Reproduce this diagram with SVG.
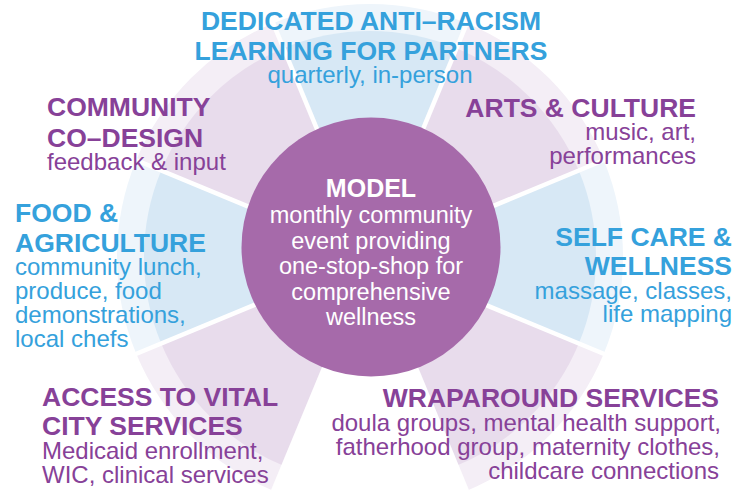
<svg xmlns="http://www.w3.org/2000/svg" width="751" height="491" viewBox="0 0 751 491">
  <style>
    .ring-blue { fill: #eef5fb; }
    .ring-purple { fill: #f4eef6; }
    .wedge-blue { fill: #d7e8f5; }
    .wedge-purple { fill: #e8dcec; }
    .divider { stroke: #ffffff; stroke-width: 4.5; stroke-linecap: butt; fill: none; }
    .title { font-family: "Liberation Sans", Arial, Helvetica, sans-serif; font-weight: bold; font-size: 26.5px; }
    .sub { font-family: "Liberation Sans", Arial, Helvetica, sans-serif; font-size: 24px; }
    .blue { fill: #35a1dc; }
    .purple { fill: #874198; }
    .hub-title { font-family: "Liberation Sans", Arial, Helvetica, sans-serif; font-weight: bold; font-size: 25px; fill: #ffffff; }
    .hub-sub { font-family: "Liberation Sans", Arial, Helvetica, sans-serif; font-size: 23.5px; fill: #ffffff; }
  </style>

  <!-- Wheel: each sector is a faint outer band (r=253) with a stronger inner wedge (r=226), centred at (370,257) -->
  <g id="wheel">
    <g id="sector-anti-racism">
      <path class="ring-blue" d="M370,257 L273.18,23.26 A253,253 0 0 1 466.82,23.26 Z"/>
      <path class="wedge-blue" d="M370,257 L283.51,48.2 A226,226 0 0 1 456.49,48.2 Z"/>
    </g>
    <g id="sector-arts-culture">
      <path class="ring-purple" d="M370,257 L466.82,23.26 A253,253 0 0 1 603.74,160.18 Z"/>
      <path class="wedge-purple" d="M370,257 L456.49,48.2 A226,226 0 0 1 578.8,170.51 Z"/>
    </g>
    <g id="sector-self-care">
      <path class="ring-blue" d="M370,257 L603.74,160.18 A253,253 0 0 1 603.74,353.82 Z"/>
      <path class="wedge-blue" d="M370,257 L578.8,170.51 A226,226 0 0 1 578.8,343.49 Z"/>
    </g>
    <g id="sector-wraparound">
      <path class="ring-purple" d="M370,257 L603.74,353.82 A253,253 0 0 1 466.82,490.74 Z"/>
      <path class="wedge-purple" d="M370,257 L578.8,343.49 A226,226 0 0 1 456.49,465.8 Z"/>
    </g>
    <g id="sector-city-services">
      <path class="ring-purple" d="M370,257 L273.18,490.74 A253,253 0 0 1 136.26,353.82 Z"/>
      <path class="wedge-purple" d="M370,257 L283.51,465.8 A226,226 0 0 1 161.2,343.49 Z"/>
    </g>
    <g id="sector-food-agriculture">
      <path class="ring-blue" d="M370,257 L136.26,353.82 A253,253 0 0 1 136.26,160.18 Z"/>
      <path class="wedge-blue" d="M370,257 L161.2,343.49 A226,226 0 0 1 161.2,170.51 Z"/>
    </g>
    <g id="sector-co-design">
      <path class="ring-purple" d="M370,257 L136.26,160.18 A253,253 0 0 1 273.18,23.26 Z"/>
      <path class="wedge-purple" d="M370,257 L161.2,170.51 A226,226 0 0 1 283.51,48.2 Z"/>
    </g>
  </g>

  <!-- White spokes between sectors -->
  <g id="connectors">
    <line class="divider" x1="370" y1="257" x2="270.5" y2="16.8"/>
    <line class="divider" x1="370" y1="257" x2="469.5" y2="16.8"/>
    <line class="divider" x1="370" y1="257" x2="610.2" y2="157.5"/>
    <line class="divider" x1="370" y1="257" x2="610.2" y2="356.5"/>
    <line class="divider" x1="370" y1="257" x2="469.5" y2="497.2"/>
    <line class="divider" x1="370" y1="257" x2="270.5" y2="497.2"/>
    <line class="divider" x1="370" y1="257" x2="129.8" y2="356.5"/>
    <line class="divider" x1="370" y1="257" x2="129.8" y2="157.5"/>
  </g>

  <!-- Sector labels -->
  <g id="anti-racism">
    <text class="title blue" text-anchor="middle" x="371" y="30">DEDICATED ANTI–RACISM</text>
    <text class="title blue" text-anchor="middle" x="371" y="59.5">LEARNING FOR PARTNERS</text>
    <text class="sub blue" text-anchor="middle" x="370" y="82.5">quarterly, in-person</text>
  </g>

  <g id="arts-culture">
    <text class="title purple" text-anchor="end" x="696" y="116.5">ARTS &amp; CULTURE</text>
    <text class="sub purple" text-anchor="end" x="696" y="140">music, art,</text>
    <text class="sub purple" text-anchor="end" x="696" y="163.5">performances</text>
  </g>

  <g id="self-care">
    <text class="title blue" text-anchor="end" x="732" y="245.5">SELF CARE &amp;</text>
    <text class="title blue" text-anchor="end" x="732" y="275">WELLNESS</text>
    <text class="sub blue" text-anchor="end" x="732" y="298.5">massage, classes,</text>
    <text class="sub blue" text-anchor="end" x="732" y="322">life mapping</text>
  </g>

  <g id="wraparound">
    <text class="title purple" text-anchor="end" x="719" y="406.5">WRAPAROUND SERVICES</text>
    <text class="sub purple" text-anchor="end" x="721" y="430.5">doula groups, mental health support,</text>
    <text class="sub purple" text-anchor="end" x="720" y="454.5">fatherhood group, maternity clothes,</text>
    <text class="sub purple" text-anchor="end" x="719" y="478.5">childcare connections</text>
  </g>

  <g id="city-services">
    <text class="title purple" x="42" y="406">ACCESS TO VITAL</text>
    <text class="title purple" x="42" y="435">CITY SERVICES</text>
    <text class="sub purple" x="42" y="459">Medicaid enrollment,</text>
    <text class="sub purple" x="42" y="482.5">WIC, clinical services</text>
  </g>

  <g id="food-agriculture">
    <text class="title blue" x="15" y="221.5">FOOD &amp;</text>
    <text class="title blue" x="15" y="251.5">AGRICULTURE</text>
    <text class="sub blue" x="15" y="275">community lunch,</text>
    <text class="sub blue" x="15" y="299">produce, food</text>
    <text class="sub blue" x="15" y="323">demonstrations,</text>
    <text class="sub blue" x="15" y="347">local chefs</text>
  </g>

  <g id="co-design">
    <text class="title purple" x="47" y="116">COMMUNITY</text>
    <text class="title purple" x="47" y="146.5">CO–DESIGN</text>
    <text class="sub purple" x="47" y="169.5">feedback &amp; input</text>
  </g>

  <!-- Hub -->
  <g id="model">
    <circle cx="371" cy="247" r="129.5" fill="#a66aaa"/>
    <text class="hub-title" text-anchor="middle" x="371" y="197">MODEL</text>
    <text class="hub-sub" text-anchor="middle" x="371" y="223">monthly community</text>
    <text class="hub-sub" text-anchor="middle" x="371" y="248.5">event providing</text>
    <text class="hub-sub" text-anchor="middle" x="371" y="274">one-stop-shop for</text>
    <text class="hub-sub" text-anchor="middle" x="371" y="299.5">comprehensive</text>
    <text class="hub-sub" text-anchor="middle" x="371" y="325">wellness</text>
  </g>
</svg>
